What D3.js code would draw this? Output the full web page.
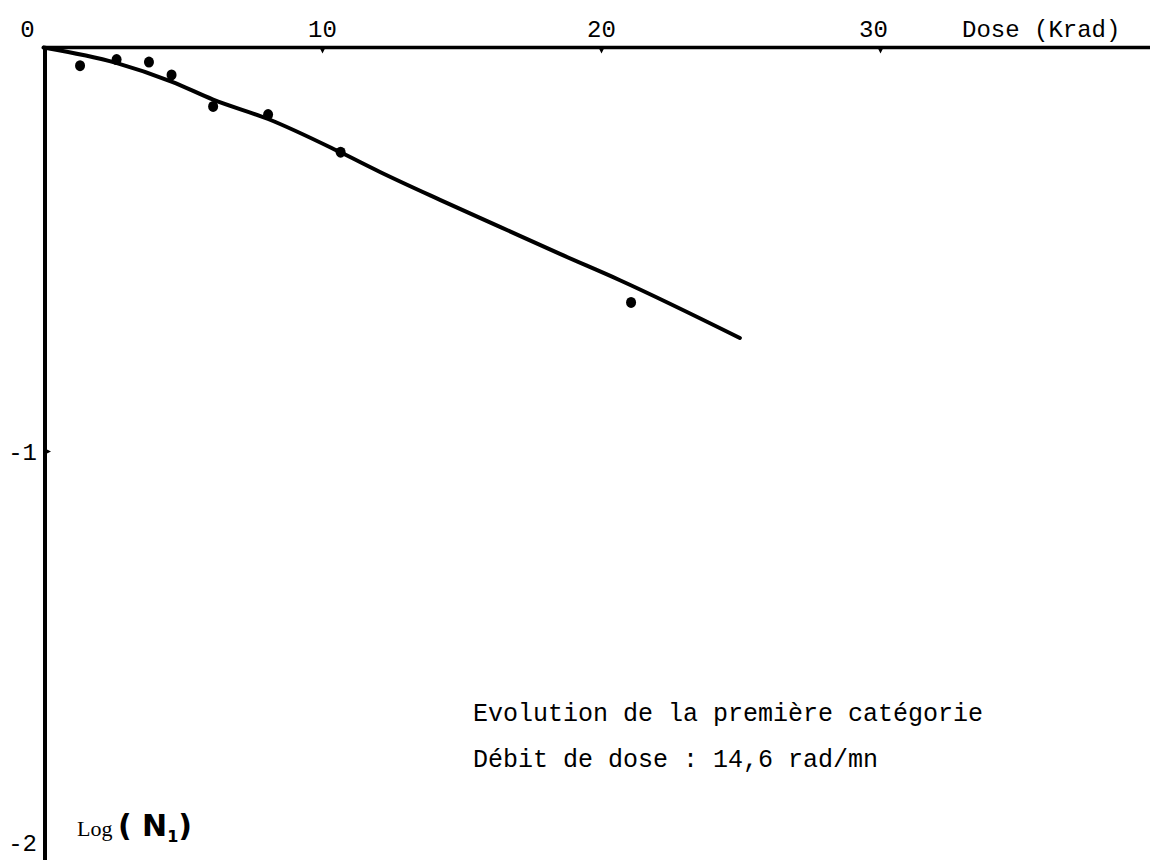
<!DOCTYPE html>
<html>
<head>
<meta charset="utf-8">
<script src="https://cdn.jsdelivr.net/npm/d3@7"></script>
<style>
  body { margin: 0; background: #fff; }
  svg { display: block; }
</style>
</head>
<body>
<div id="chart"></div>
<script>
// measured points (dose in krad, log N1)
const doses = [1.31, 2.62, 3.78, 4.59, 6.08, 8.05, 10.65, 21.06];
const logN = [-0.045, -0.030, -0.036, -0.068, -0.146, -0.166, -0.259, -0.631];

// hand drawn fit line
const fitDose = [0, 2.60, 4.61, 6.08, 8.05, 10.66, 12.06, 14.21, 16.36, 18.51, 20.66, 24.96];
const fitLog = [0, -0.038, -0.085, -0.129, -0.177, -0.260, -0.308, -0.377, -0.444, -0.511, -0.576, -0.719];

const xTicks = [0, 10, 20, 30];
const yTicks = [-1, -2];
const notes = ["Evolution de la première catégorie", "Débit de dose : 14,6 rad/mn"];

const w = 1150, h = 860;
const mono = "'Liberation Mono', 'DejaVu Sans Mono', monospace";

const svg = d3.select("#chart")
  .append("svg")
  .attr("width", w)
  .attr("height", h);

// scales
const x = d3.scaleLinear().domain([0, 10]).range([43.5, 322.5]);
const y = d3.scaleLinear().domain([0, -1]).range([47.5, 451.5]);

// axes lines
svg.append("line")
  .attr("x1", 43).attr("x2", w)
  .attr("y1", y(0)).attr("y2", y(0))
  .attr("stroke", "#000").attr("stroke-width", 3.5);

svg.append("line")
  .attr("x1", 45).attr("x2", 45)
  .attr("y1", y(0) - 1.5).attr("y2", h)
  .attr("stroke", "#000").attr("stroke-width", 4);

// x tick marks (small notches under the axis)
svg.selectAll(".xnotch")
  .data(xTicks.filter(d => d > 0))
  .enter()
  .append("path")
    .attr("d", d => `M${x(d) - 3},${y(0)} L${x(d) + 3},${y(0)} L${x(d)},${y(0) + 6} Z`)
    .attr("fill", "#000");

// x tick labels
svg.selectAll(".xlab")
  .data(xTicks)
  .enter()
  .append("text")
    .attr("x", d => d === 0 ? x(d) - 16 : x(d) - (d === 30 ? 7 : 0))
    .attr("y", 37)
    .attr("text-anchor", "middle")
    .style("font-family", mono)
    .style("font-size", "24px")
    .text(d => d);

svg.append("text")
  .attr("x", 962)
  .attr("y", 37)
  .style("font-family", mono)
  .style("font-size", "24px")
  .text("Dose (Krad)");

// y ticks
svg.selectAll(".ynotch")
  .data(yTicks.filter(d => d > -2))
  .enter()
  .append("path")
    .attr("d", d => `M45,${y(d) - 3} L45,${y(d) + 3} L51,${y(d)} Z`)
    .attr("fill", "#000");

svg.selectAll(".ylab")
  .data(yTicks)
  .enter()
  .append("text")
    .attr("x", 37)
    .attr("y", d => d === -2 ? 851 : y(d) + 8)
    .attr("text-anchor", "end")
    .style("font-family", mono)
    .style("font-size", "24px")
    .text(d => d);

// y label
const ylab = svg.append("text")
  .attr("x", 77)
  .attr("y", 836);
ylab.append("tspan")
  .style("font-family", "'Liberation Serif', serif")
  .style("font-size", "22px")
  .text("Log ");
ylab.append("tspan")
  .style("font-family", "'DejaVu Sans', sans-serif")
  .style("font-size", "30px")
  .style("font-weight", "bold")
  .text("( N");
ylab.append("tspan")
  .attr("dy", 6)
  .style("font-family", "'DejaVu Sans', sans-serif")
  .style("font-size", "16px")
  .style("font-weight", "bold")
  .text("1");
ylab.append("tspan")
  .attr("dy", -6)
  .style("font-family", "'DejaVu Sans', sans-serif")
  .style("font-size", "30px")
  .style("font-weight", "bold")
  .text(")");

// fit line
const fit = fitDose.map((d, i) => [d, fitLog[i]]);
svg.append("path")
  .datum(fit)
  .attr("fill", "none")
  .attr("stroke", "#000")
  .attr("stroke-width", 4)
  .attr("stroke-linecap", "round")
  .attr("stroke-linejoin", "round")
  .attr("d", d3.line().x(d => x(d[0])).y(d => y(d[1])).curve(d3.curveMonotoneX));

// points
svg.selectAll(".pt")
  .data(doses.map((d, i) => [d, logN[i]]))
  .enter()
  .append("ellipse")
    .attr("cx", d => x(d[0]))
    .attr("cy", d => y(d[1]))
    .attr("rx", 5)
    .attr("ry", 5.5)
    .attr("fill", "#000");

// annotation
svg.selectAll(".note")
  .data(notes)
  .enter()
  .append("text")
    .attr("x", 473)
    .attr("y", (d, i) => 721 + i * 46)
    .style("font-family", mono)
    .style("font-size", "25px")
    .text(d => d);
</script>
</body>
</html>
